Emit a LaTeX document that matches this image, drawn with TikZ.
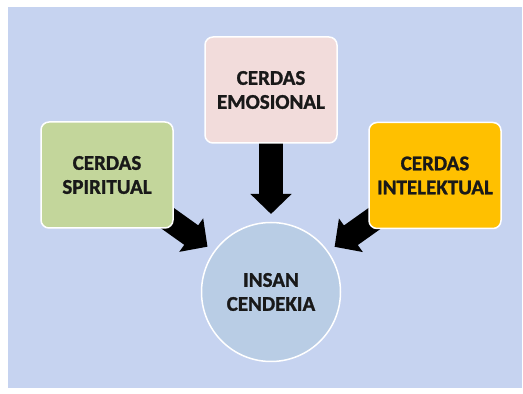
\documentclass[tikz,border=0pt]{standalone}
\usepackage{fontspec}
\setmainfont{Carlito}[BoldFeatures = {FakeBold = 1.2}]
\usepackage{xcolor}
\usetikzlibrary{arrows.meta, positioning}
\definecolor{latar}{RGB}{198,211,240}
\definecolor{hijau}{RGB}{195,214,155}
\definecolor{merahmuda}{RGB}{242,220,219}
\definecolor{jingga}{RGB}{255,192,0}
\definecolor{biru}{RGB}{185,205,229}
\pgfdeclarelayer{dasar}
\pgfdeclarelayer{panahlayer}
\pgfsetlayers{dasar,panahlayer,main}

\begin{document}
\begin{tikzpicture}[x = 1pt, y = 1pt,
  kotak/.style = {draw = white, line width = 1.5pt, rounded corners = 8pt, minimum width = 132pt, minimum height = 106pt, align = center, font = \fontsize{21}{24}\selectfont\bfseries, text = black!90},
  bulat/.style = {circle, draw = white, line width = 1.5pt, fill = biru, minimum size = 139pt, inner sep = 0pt, align = center, font = \fontsize{21}{24}\selectfont\bfseries, text = black!90},
  panah/.style = {line width = 24pt, -{Triangle[width = 40pt, length = 20pt]}, shorten > = 78pt, shorten < = 40pt}]
\useasboundingbox (0,0) rectangle (523,394);
\begin{pgfonlayer}{dasar}
\fill[latar] (8,6) rectangle (522,387);
\end{pgfonlayer}
\node[kotak, fill = merahmuda] (emosi) at (271,304) {CERDAS\\EMOSIONAL};
\node[kotak, fill = hijau] (spirit) at (107,219) {CERDAS\\SPIRITUAL};
\node[kotak, fill = jingga] (intelek) at (435,218.5) {CERDAS\\INTELEKTUAL};
\node[bulat] (insan) at (271,102) {INSAN\\CENDEKIA};
\begin{pgfonlayer}{panahlayer}
\foreach \n in {emosi, spirit, intelek}
\draw[panah] (\n.center) -- (insan.center);
\end{pgfonlayer}
\end{tikzpicture}
\end{document}
